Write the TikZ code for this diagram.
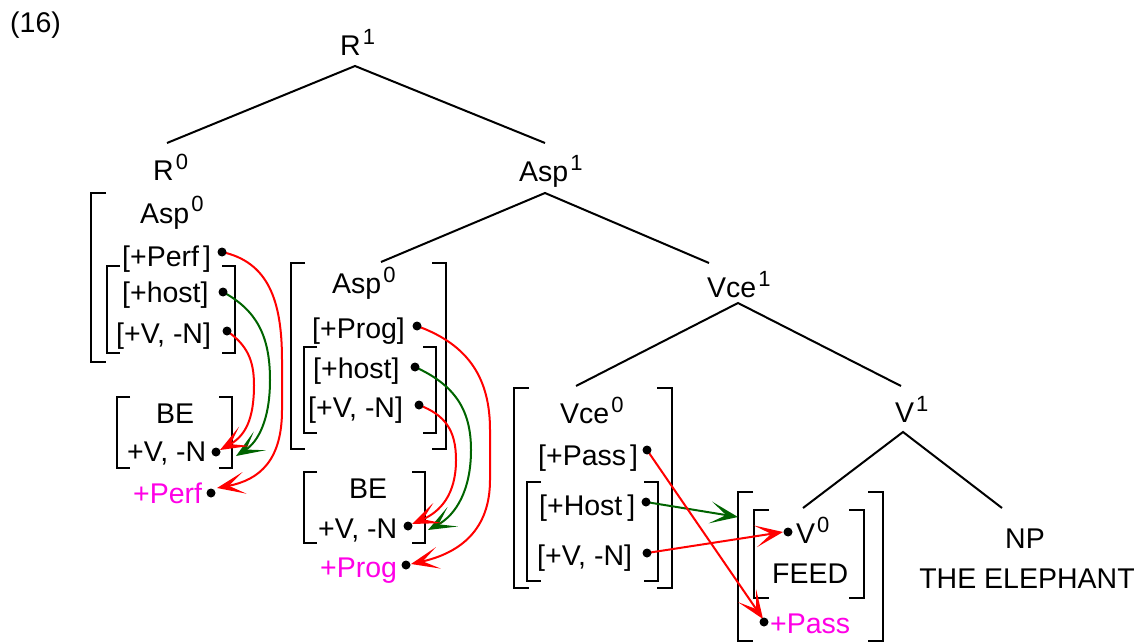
\documentclass[tikz,border=0pt]{standalone}
\usepackage{fontspec}
\setmainfont{Liberation Sans}
\usetikzlibrary{arrows.meta}
\definecolor{dgreen}{RGB}{0,100,0}
\definecolor{mag}{RGB}{255,0,230}
\newcommand{\sps}[1]{\kern2pt\raisebox{11pt}{\fontsize{22}{23}\selectfont #1}}
\newcommand{\brkpair}[5]{%
  \draw[brk] ({#1+#5},#3) -- (#1,#3) -- (#1,#4) -- ({#1+#5},#4);
  \draw[brk] ({#2-#5},#3) -- (#2,#3) -- (#2,#4) -- ({#2-#5},#4);}
\begin{document}
\begin{tikzpicture}[x=1pt,y=-1pt,
  lbl/.style={inner sep=0pt, font=\fontsize{28.5}{32}\selectfont, anchor=base west},
  brk/.style={line width=2.4pt},
  edge/.style={line width=2pt},
  dotn/.style={circle, fill=black, inner sep=0pt, minimum size=9pt},
  headtip/.style={-{Stealth[length=28pt,width=22pt,inset=16pt]}},
  redarr/.style={headtip, draw=red, line width=2pt},
  grnarr/.style={headtip, draw=dgreen, line width=2pt}]
\useasboundingbox (0,0) rectangle (1147,644);

% ---------------- tree labels
\node[lbl] (n16) at (10,33) {(16)};
\node[lbl] (R1) at (340,56) {R\sps{1}};
\node[lbl] (R0) at (153,181) {R\sps{0}};
\node[lbl] (Asp1) at (519,182) {Asp\sps{1}};
\node[lbl] (Vce1) at (707,297) {Vce\sps{1}};
\node[lbl] (V1) at (895,422) {V\sps{1}};
\node[lbl,anchor=base] (NP) at (1025,548) {NP};
\node[lbl,anchor=base] (eleph) at (1027,588) {THE ELEPHANT};

% ---------------- tree attachment points
\coordinate (r1b) at (355,66);
\coordinate (r0t) at (167,143);
\coordinate (asp1t) at (545,143);
\coordinate (asp1b) at (545,193);
\coordinate (asp0t) at (381,262);
\coordinate (vce1t) at (709,263);
\coordinate (vce1b) at (738,303);
\coordinate (vce0t) at (576,386);
\coordinate (v1t) at (901,386);
\coordinate (v1b) at (903,432);
\coordinate (v0t) at (803,508);
\coordinate (npt) at (1002,508);

\draw[edge] (r0t) -- (r1b) -- (asp1t);
\draw[edge] (asp0t) -- (asp1b) -- (vce1t);
\draw[edge] (vce0t) -- (vce1b) -- (v1t);
\draw[edge] (v0t) -- (v1b) -- (npt);

% ---------------- brackets
\draw[brk] (106,193) -- (91,193) -- (91,362) -- (106,362);
\brkpair{107}{235}{266}{353}{13}
\brkpair{117}{232}{397}{468}{13}
\brkpair{291}{446}{263}{449}{14}
\brkpair{304}{436}{347}{433}{13}
\brkpair{304}{425}{472}{543}{13}
\brkpair{514}{672}{388}{588}{15}
\brkpair{527}{658}{482}{581}{14}
\brkpair{738}{883}{492}{641}{15}
\brkpair{754}{864}{510}{598}{15}

% ---------------- R0 block
\node[lbl] (aspA) at (140,223) {Asp\sps{0}};
\node[lbl] (perf) at (122,266) {[+Perf\kern4pt]};
\node[lbl] (hostA) at (122,302) {[+host]};
\node[lbl] (vnA) at (116,343) {[+V, -N]};
\node[lbl] (beA) at (156,423) {BE};
\node[lbl] (bevnA) at (127,461) {+V, -N};
\node[lbl,text=mag] (perfM) at (133,503) {+Perf};

% ---------------- Asp0 block
\node[lbl] (aspB) at (332,293) {Asp\sps{0}};
\node[lbl] (prog) at (312,338) {[+Prog]};
\node[lbl] (hostB) at (313,378) {[+host]};
\node[lbl] (vnB) at (308,417) {[+V, -N]};
\node[lbl] (beB) at (349,498) {BE};
\node[lbl] (bevnB) at (318,538) {+V, -N};
\node[lbl,text=mag] (progM) at (320,577) {+Prog};

% ---------------- Vce0 block
\node[lbl] (vce0) at (560,423) {Vce\sps{0}};
\node[lbl] (pass) at (538,465) {[+Pass\kern4pt]};
\node[lbl] (hostC) at (539,515) {[+Host\kern5pt]};
\node[lbl] (vnC) at (537,565) {[+V, -N]};

% ---------------- V0 block
\node[lbl] (v0) at (796,543) {V\sps{0}};
\node[lbl] (feed) at (772,583) {FEED};
\node[lbl,text=mag] (passM) at (770,633) {+Pass};

% ---------------- green targets on brackets
\coordinate (beAr) at (236,456);
\coordinate (beBr) at (428,530);
\coordinate (v0l) at (738,517);

% ---------------- arrows
\draw[redarr] (222,252) .. controls (268,262) and (282,300) .. (282,360) -- (282,410) .. controls (282,460) and (260,480) .. (217,488);
\draw[grnarr] (223,292) .. controls (256,310) and (270,335) .. (270,380) .. controls (270,420) and (258,442) .. (beAr);
\draw[redarr] (227,331) .. controls (247,345) and (254,360) .. (254,385) .. controls (254,420) and (245,436) .. (220,450);

\draw[redarr] (417,326) .. controls (470,345) and (490,380) .. (490,430) -- (490,480) .. controls (490,530) and (460,553) .. (411,564);
\draw[grnarr] (415,367) .. controls (455,385) and (471,410) .. (471,450) .. controls (471,490) and (456,515) .. (beBr);
\draw[redarr] (419,405) .. controls (445,415) and (456,430) .. (456,460) .. controls (456,495) and (440,512) .. (412,524);

\draw[grnarr] (646,502) -- (v0l);
\draw[redarr] (647,553) -- (783,532);
\draw[redarr] (647,450) -- (763,619);

% ---------------- dots
\node[dotn] (dPerf) at (222,252) {};
\node[dotn] (dHostA) at (223,292) {};
\node[dotn] (dVnA) at (227,331) {};
\node[dotn] (dBeA) at (216,452) {};
\node[dotn] (dPerfM) at (211,493) {};
\node[dotn] (dProg) at (417,326) {};
\node[dotn] (dHostB) at (415,367) {};
\node[dotn] (dVnB) at (419,405) {};
\node[dotn] (dBeB) at (408,526) {};
\node[dotn] (dProgM) at (406,565) {};
\node[dotn] (dPass) at (647,450) {};
\node[dotn] (dHostC) at (646,502) {};
\node[dotn] (dVnC) at (647,553) {};
\node[dotn] (dV0) at (788,532) {};
\node[dotn] (dPassM) at (764,622) {};
\end{tikzpicture}
\end{document}
